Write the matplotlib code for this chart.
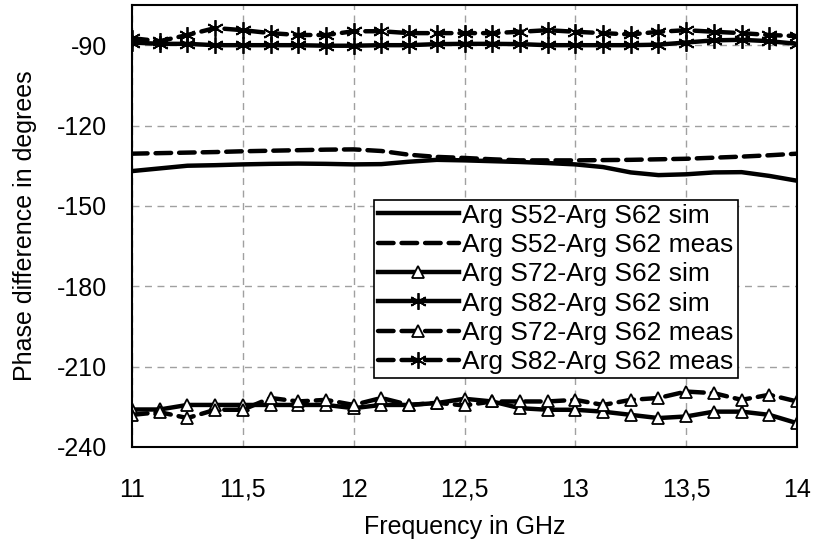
import numpy as np
import matplotlib
matplotlib.use('Agg')
from matplotlib import pyplot as plt

plt.rcParams['font.family'] = ['Liberation Sans', 'DejaVu Sans']
plt.rcParams['axes.unicode_minus'] = False

# Frequency points (GHz)
freq = np.arange(11, 14.0001, 0.125)

s52_sim = [-137, -136, -135, -134.8, -134.5, -134.3, -134.2, -134.3, -134.5, -134.4, -133.5, -132.8, -133,
           -133.3, -133.6, -134, -134.5, -135.5, -137.5, -138.5, -138.2, -137.5, -137.4, -138.8, -140.6]
s52_meas = [-130.5, -130.3, -130.1, -129.9, -129.6, -129.4, -129.2, -129, -128.9, -129.5, -130.9, -131.7, -132.1,
            -132.6, -133, -133, -133, -132.9, -132.8, -132.6, -132.4, -132, -131.6, -131.1, -130.5]
s72_sim = [-226, -226, -224.3, -224.3, -224.3, -224.3, -224.3, -224.3, -225.5, -224.3, -224.3, -223.6, -222,
           -223, -225.5, -226.1, -226.1, -226.8, -228, -229.2, -228.6, -226.8, -226.8, -228, -231.1]
s72_meas = [-228, -227, -229.2, -226.1, -226.1, -221.7, -223, -222.4, -224.3, -221.7, -224.3, -223.5, -224.5,
            -223, -223, -223, -222.4, -224.3, -222.4, -221.7, -219.3, -219.9, -222.4, -220.5, -223]
s82_sim = [-89, -89.5, -89.5, -90, -90, -90, -90, -90.2, -90.2, -90, -90, -89.6, -89.5,
           -89.5, -89.6, -90, -90, -90, -90, -89.8, -89, -88.2, -88, -88.5, -89.5]
s82_meas = [-87.4, -88.5, -86.2, -83.6, -84.4, -85.5, -86.2, -86.2, -84.8, -84.8, -85.5, -85.5, -85.5,
            -85.5, -85, -84.4, -85, -85.5, -86, -85, -84.4, -85, -85.5, -86.2, -86.6]

labels = ['Arg S52-Arg S62 sim', 'Arg S52-Arg S62 meas', 'Arg S72-Arg S62 sim',
          'Arg S82-Arg S62 sim', 'Arg S72-Arg S62 meas', 'Arg S82-Arg S62 meas']

fig = plt.figure(figsize=(8.15, 5.48), dpi=100)
ax = fig.add_axes([132 / 815, 1 - 447 / 548, 665 / 815, 442 / 548])

lw = 3.2
dash = dict(linestyle=(0, (3.5, 1.8)), dash_capstyle='round')
tri = dict(marker='^', markersize=9, markerfacecolor='white', markeredgecolor='black', markeredgewidth=1.3)
ast = dict(marker=(6, 2, 0), markersize=12, markeredgecolor='black', markeredgewidth=1.3)

ax.plot(freq, s52_sim, color='black', lw=lw, label=labels[0])
ax.plot(freq, s52_meas, color='black', lw=lw, label=labels[1], **dash)
ax.plot(freq, s72_sim, color='black', lw=lw, label=labels[2], **tri)
ax.plot(freq, s82_sim, color='black', lw=lw, label=labels[3], **ast)
ax.plot(freq, s72_meas, color='black', lw=lw, label=labels[4], **dash, **tri)
ax.plot(freq, s82_meas, color='black', lw=lw, label=labels[5], **dash, **ast)

ax.set_xlim(11, 14)
ax.set_ylim(-240, -75)
ax.set_xticks([11, 11.5, 12, 12.5, 13, 13.5, 14])
ax.set_xticklabels(['11', '11,5', '12', '12,5', '13', '13,5', '14'])
ax.set_yticks([-240, -210, -180, -150, -120, -90])
ax.tick_params(length=0, labelsize=18)
ax.tick_params(axis='x', pad=22)
ax.tick_params(axis='y', pad=18)
ax.grid(True, color='#a0a0a0', linestyle=(0, (5, 4)), linewidth=1)
ax.set_axisbelow(True)
for sp in ax.spines.values():
    sp.set_linewidth(1.5)
    sp.set_color('black')

ax.set_xlabel('Frequency in GHz', fontsize=18, labelpad=10)
ax.set_ylabel('Phase difference in degrees', fontsize=18, labelpad=14)

leg = ax.legend(loc='lower right', bbox_to_anchor=(0.911, 0.156), borderaxespad=0,
                fontsize=19, handlelength=3.1, handletextpad=0.12, labelspacing=0.2,
                borderpad=0.15, fancybox=False, framealpha=1, edgecolor='black')
leg.get_frame().set_linewidth(1.2)

plt.savefig('out.png', dpi=100)
